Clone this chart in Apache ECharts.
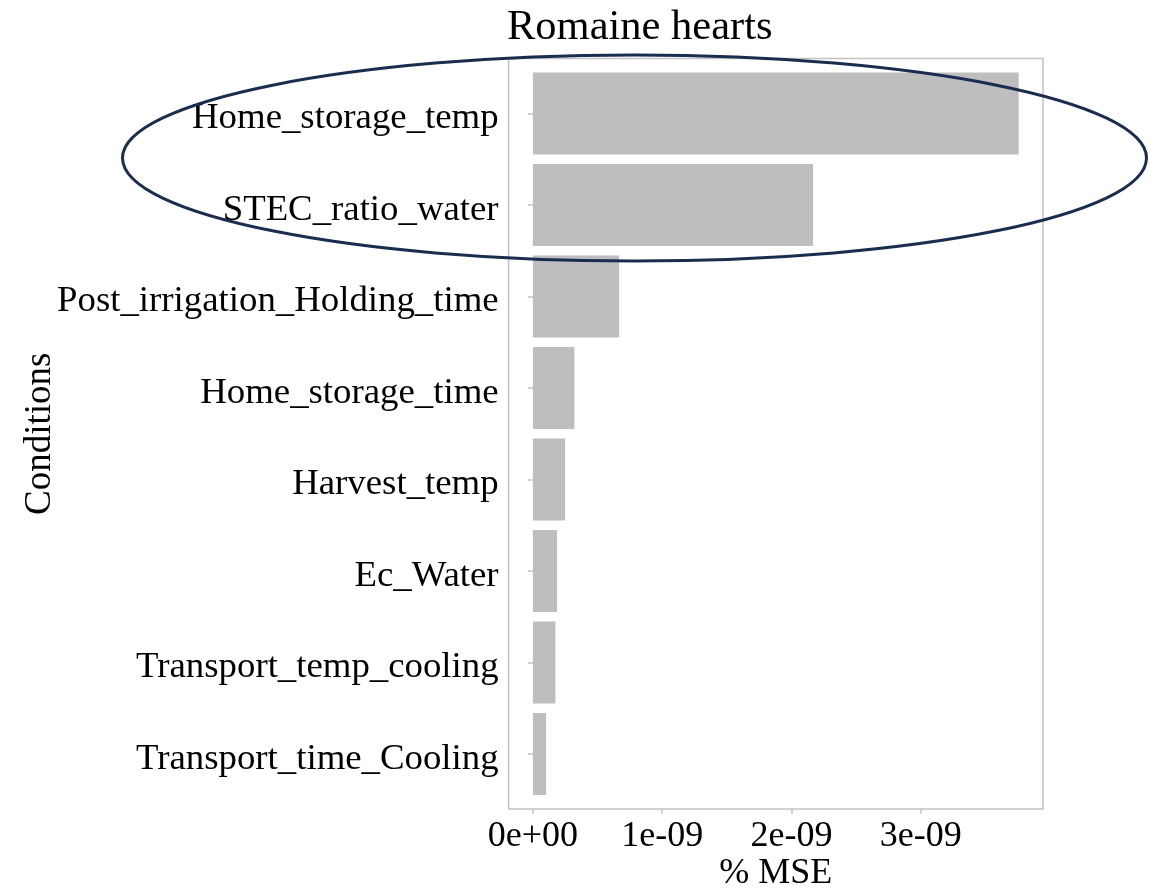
<!DOCTYPE html>
<html>
<head>
<meta charset="utf-8">
<title>Romaine hearts</title>
<script src="https://cdn.jsdelivr.net/npm/echarts@6/dist/echarts.min.js"></script>
<style>
  html, body { margin: 0; padding: 0; background: #fff; }
  #chart { width: 1161px; height: 889px; }
</style>
</head>
<body>
<div id="chart"></div>
<script>
// conditions, top to bottom
const conditions = [
  'Home_storage_temp',
  'STEC_ratio_water',
  'Post_irrigation_Holding_time',
  'Home_storage_time',
  'Harvest_temp',
  'Ec_Water',
  'Transport_temp_cooling',
  'Transport_time_Cooling'
]
// % MSE per condition
const mseValues = [3.757e-9, 2.167e-9, 0.667e-9, 0.321e-9, 0.249e-9, 0.187e-9, 0.174e-9, 0.102e-9]
const xTicks = [0, 1e-9, 2e-9, 3e-9]
const xTickLabels = ['0e+00', '1e-09', '2e-09', '3e-09']

const serif = "'Liberation Serif', 'Times New Roman', serif"
const grey = '#c4c4c4'

const chart = echarts.init(document.getElementById('chart'))

chart.setOption({
  animation: false,
  backgroundColor: '#fff',
  textStyle: { fontFamily: serif, color: '#000' },
  title: {
    text: 'Romaine hearts',
    left: 507,
    top: 6,
    padding: 0,
    textStyle: { fontFamily: serif, fontSize: 42.5, fontWeight: 'normal', color: '#000' }
  },
  grid: [
    // plotting area (category slots inset like ggplot's discrete expansion)
    { left: 508.6, right: 118, top: 67.75, bottom: 89.15, outerBoundsMode: 'none', containLabel: false },
    // panel border
    { left: 508.6, right: 118, top: 58.6, bottom: 80, outerBoundsMode: 'none', show: true, borderColor: grey, borderWidth: 1.5, backgroundColor: 'transparent' }
  ],
  xAxis: [{
    type: 'value',
    gridIndex: 0,
    min: -0.188e-9,
    max: 3.945e-9,
    offset: 9,
    splitLine: { show: false },
    axisLine: { show: false },
    axisTick: {
      show: true,
      length: 5,
      customValues: xTicks,
      lineStyle: { color: grey, width: 1.5 }
    },
    axisLabel: {
      customValues: xTicks,
      fontFamily: serif,
      fontSize: 36,
      color: '#000',
      margin: 10,
      formatter: v => {
        const i = xTicks.indexOf(v)
        return i >= 0 ? xTickLabels[i] : ''
      }
    },
    name: '% MSE',
    nameLocation: 'middle',
    nameMoveOverlap: false,
    nameGap: 47,
    nameTextStyle: { fontFamily: serif, fontSize: 36, color: '#000' }
  }, {
    type: 'value', gridIndex: 1, show: false
  }],
  yAxis: [{
    type: 'category',
    gridIndex: 0,
    data: conditions,
    inverse: true,
    axisLine: { show: false },
    axisTick: { show: true, length: 5, alignWithLabel: true, lineStyle: { color: grey, width: 1.5 } },
    axisLabel: {
      fontFamily: serif,
      fontSize: 36.8,
      color: '#000',
      margin: 10,
      verticalAlign: 'top',
      lineHeight: 10
    },
    name: 'Conditions',
    nameLocation: 'middle',
    nameRotate: 90,
    nameMoveOverlap: false,
    nameGap: 450,
    nameTextStyle: { fontFamily: serif, fontSize: 37, color: '#000' }
  }, {
    type: 'value', gridIndex: 1, show: false
  }],
  series: [{
    name: '% MSE',
    type: 'bar',
    xAxisIndex: 0,
    yAxisIndex: 0,
    data: mseValues,
    barWidth: 82,
    itemStyle: { color: '#bebebe' }
  }],
  graphic: [{
    // highlight ellipse around the two top conditions
    type: 'ellipse',
    z: 100,
    shape: { cx: 634.5, cy: 158, rx: 512, ry: 103 },
    style: { fill: 'transparent', stroke: '#1b2d4f', lineWidth: 3 }
  }]
})
</script>
</body>
</html>
